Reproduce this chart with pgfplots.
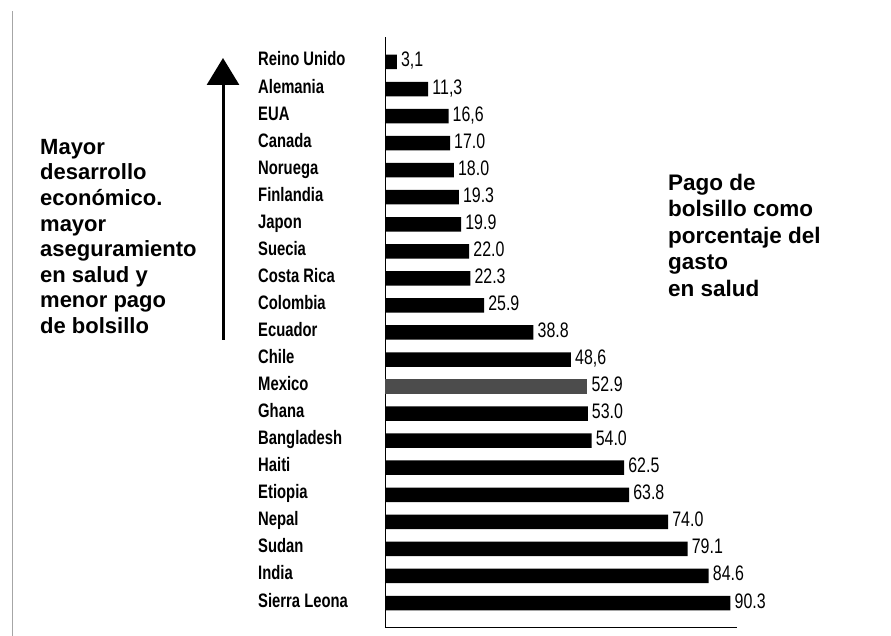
\documentclass[border=0pt]{standalone}
\usepackage{fontspec}
\setmainfont{Liberation Sans}
\newfontfamily\condfont{Liberation Sans}[FakeStretch=0.76]
\usepackage{pgfplots}
\pgfplotsset{compat=1.18}
\usetikzlibrary{arrows.meta}
\begin{document}
\begin{tikzpicture}[x=1pt,y=1pt]
\path[use as bounding box] (0,0) rectangle (891,636);
\draw[black!35, line width=0.6pt] (12,0) -- (12,625);
\begin{axis}[
  at={(385pt,8pt)}, anchor=south west,
  scale only axis, width=352pt, height=591pt,
  xmin=0, xmax=92, ymin=-0.924, ymax=20.924,
  xbar, bar width=14.5pt, bar shift=0pt,
  axis x line=bottom, axis y line=left,
  axis line style={-, line width=1pt},
  xtick=\empty,
  ytick={0,...,20}, major tick length=0pt,
  yticklabels={Sierra Leona,India,Sudan,Nepal,Etiopia,Haiti,Bangladesh,Ghana,Mexico,Chile,Ecuador,Colombia,Costa Rica,Suecia,Japon,Finlandia,Noruega,Canada,EUA,Alemania,Reino Unido},
  yticklabel style={anchor=west, xshift=-127pt, inner sep=0pt, text height=14pt, text depth=4pt, yshift=1pt, font=\condfont\bfseries\fontsize{19.5}{21}\selectfont},
  nodes near coords={\pgfplotspointmeta},
  point meta=explicit symbolic,
  every node near coord/.append style={anchor=west, inner sep=0pt, text height=14pt, text depth=4pt, xshift=4pt, yshift=0pt, font=\condfont\fontsize{21}{22}\selectfont},
  clip=false,
]
\addplot[fill=black, draw=none] table[meta=lab] {
x y lab
90.3 0 90.3
84.6 1 84.6
79.1 2 79.1
74.0 3 74.0
63.8 4 63.8
62.5 5 62.5
54.0 6 54.0
53.0 7 53.0
48.6 9 48,6
38.8 10 38.8
25.9 11 25.9
22.3 12 22.3
22.0 13 22.0
19.9 14 19.9
19.3 15 19.3
18.0 16 18.0
17.0 17 17.0
16.6 18 16,6
11.3 19 11,3
3.1 20 3,1
};
\addplot[fill=black!70, draw=none] table[meta=lab] {
x y lab
52.9 8 52.9
};
\end{axis}
\draw[line width=3pt, -{Triangle[width=32pt,length=27pt]}] (223,296) -- (223,578);
\node[anchor=north west, align=left, inner sep=0pt, font=\bfseries\fontsize{22}{25.6}\selectfont] at (40,497) {Mayor\\desarrollo\\económico.\\mayor\\aseguramiento\\en salud y\\menor pago\\de bolsillo};
\node[anchor=north west, align=left, inner sep=0pt, font=\bfseries\fontsize{22.5}{26.5}\selectfont] at (668,462) {Pago de\\bolsillo como\\porcentaje del\\gasto\\en salud};
\end{tikzpicture}
\end{document}
